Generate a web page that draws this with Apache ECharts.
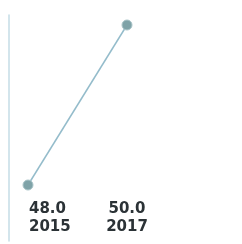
<!DOCTYPE html>
<html>
<head>
<meta charset="utf-8">
<script src="https://cdn.jsdelivr.net/npm/echarts@6/dist/echarts.min.js"></script>
<style>
  html, body { margin:0; padding:0; background:#fff; }
  #main { width:242px; height:244px; }
</style>
</head>
<body>
<div id="main"></div>
<script>
var years = ['2015', '2017'];
var values = [48.0, 50.0];

var chart = echarts.init(document.getElementById('main'));

// first label sits right of its point, second is centred
var catData = years.map(function (y, i) {
  return i === 0
    ? { value: y, textStyle: { align: 'left', padding: [0, 0, 0, 1] } }
    : { value: y };
});

var option = {
  backgroundColor: '#fff',
  animation: false,
  grid: { left: 28, right: 115, top: 15, bottom: 3 },
  xAxis: {
    type: 'category',
    data: catData,
    boundaryGap: false,
    offset: -41,
    axisLine: { show: false },
    axisTick: { show: false },
    splitLine: { show: false },
    axisLabel: {
      margin: 0,
      fontFamily: 'DejaVu Sans',
      fontWeight: 'bold',
      fontSize: 15,
      lineHeight: 18,
      color: '#2b3236',
      formatter: function (v, i) {
        return values[i].toFixed(1) + '\n' + v;
      }
    }
  },
  yAxis: {
    type: 'value',
    min: 47.3,
    max: 50.125,
    offset: 19,
    axisLine: { show: true, lineStyle: { color: '#c4dce6', width: 1.5 } },
    axisTick: { show: false },
    axisLabel: { show: false },
    splitLine: { show: false }
  },
  series: [{
    type: 'line',
    data: values,
    symbol: 'circle',
    symbolSize: 10,
    lineStyle: { color: '#94bccb', width: 1.5 },
    itemStyle: { color: '#7fa3a8', borderColor: '#a9c4c8', borderWidth: 1 }
  }]
};

chart.setOption(option);
</script>
</body>
</html>
